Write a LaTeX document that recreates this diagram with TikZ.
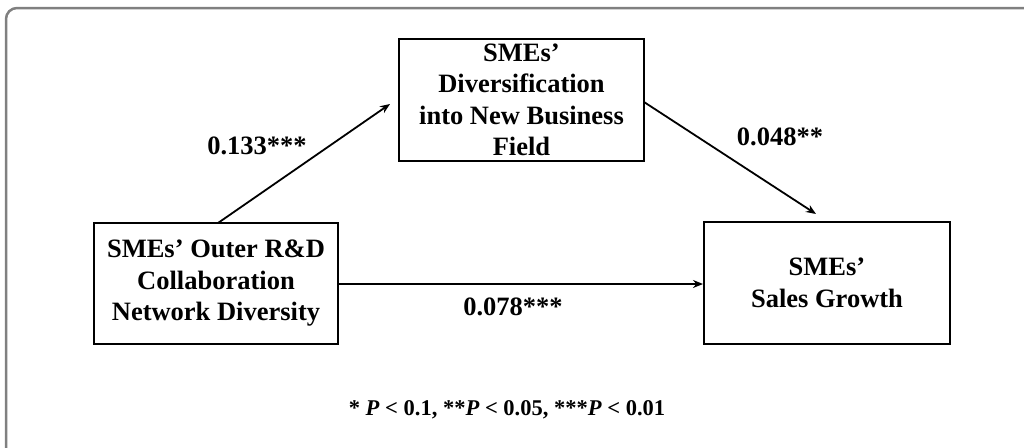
\documentclass[tikz,border=0pt]{standalone}
\usepackage{fontspec}
\setmainfont{Liberation Serif}
\usetikzlibrary{arrows.meta}
\begin{document}
\begin{tikzpicture}[x=1pt,y=-1pt,
  box/.style={draw=black,line width=2pt,minimum width=#1,align=center,inner sep=0pt,
    font=\fontsize{26.5}{31.5}\selectfont\bfseries},
  lbl/.style={font=\fontsize{26.5}{31}\selectfont\bfseries,inner sep=0pt},
  conn/.style={line width=1.8pt,-{Stealth[length=10pt,width=8pt]}}]
\useasboundingbox (0,0) rectangle (1024,447);
\begin{scope}
\clip (0,0) rectangle (1024,447);
\draw[draw=black!50,line width=2.5pt,rounded corners=11pt] (6,8) rectangle (1040,465);
\end{scope}
\node[box=245pt,minimum height=122pt] (mid) at (521.5,100) {SMEs'\\Diversification\\into New Business\\Field};
\node[box=244pt,minimum height=121pt] (src) at (216,283.5) {\raisebox{-4pt}{\parbox{244pt}{\centering SMEs' Outer R\&D\\Collaboration\\Network Diversity}}};
\node[box=246pt,minimum height=122pt] (dst) at (827,283) {SMEs'\\Sales Growth};
\coordinate (a1) at (218,223);
\coordinate (t1) at (390,104);
\coordinate (a2) at (644,102);
\coordinate (t2) at (816,214);
\draw[conn] (a1) -- (t1);
\draw[conn] (a2) -- (t2);
\draw[conn] (src.east |- 0,284) -- (dst.west |- 0,284);
\node[lbl] (l1) at (257,146) {0.133***};
\node[lbl] (l2) at (780,137) {0.048**};
\node[lbl] (l3) at (513,307) {0.078***};
\node[font=\fontsize{22.5}{26}\selectfont\bfseries,inner sep=0pt] (note) at (507,410) {* \textit{P} < 0.1, **\textit{P} < 0.05, ***\textit{P} < 0.01};
\end{tikzpicture}
\end{document}
